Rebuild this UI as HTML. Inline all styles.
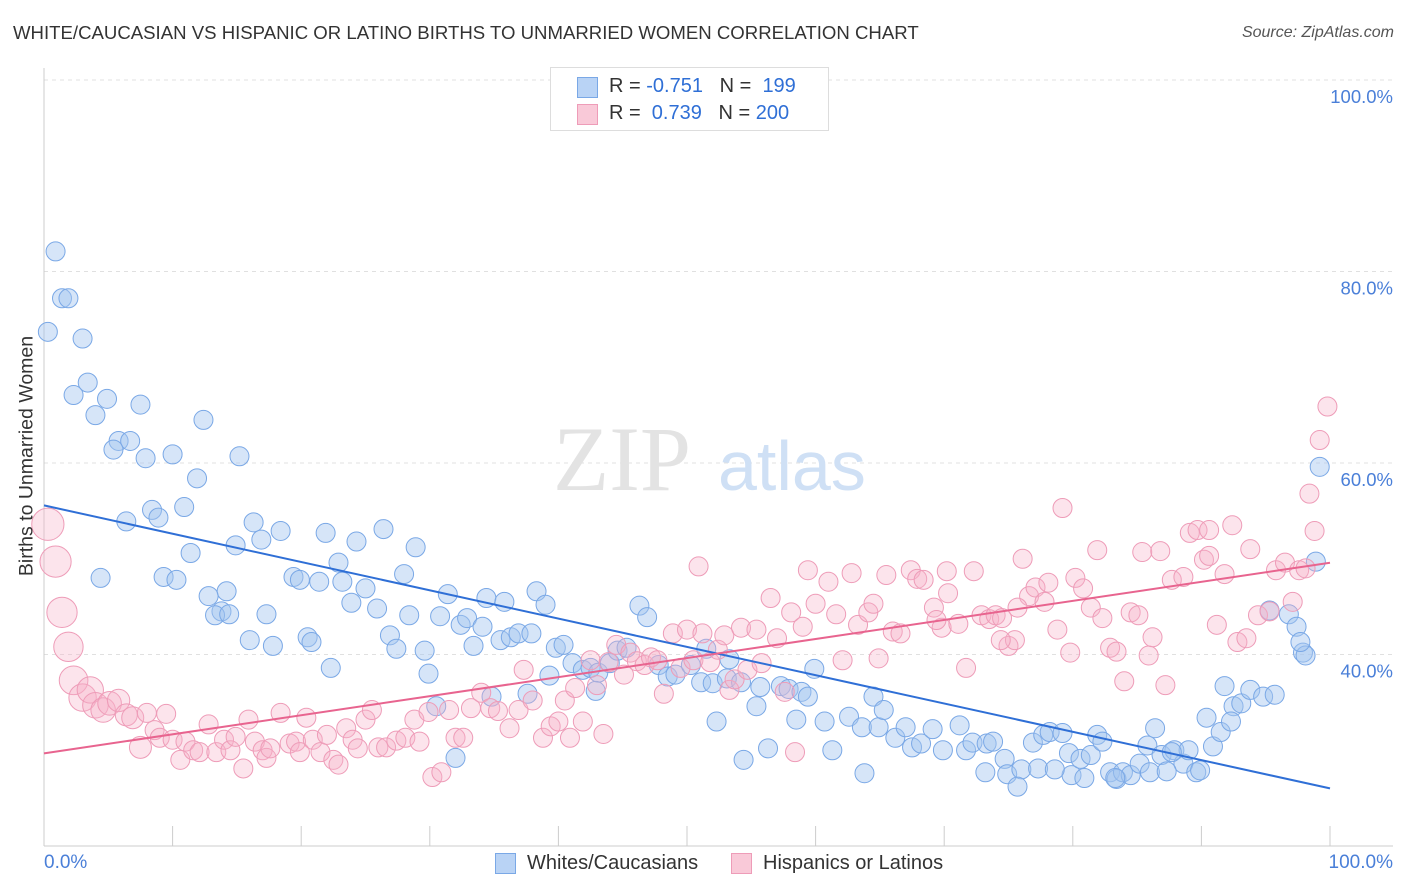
<!DOCTYPE html>
<html><head><meta charset="utf-8">
<style>
body{margin:0;background:#fff;font-family:"Liberation Sans",sans-serif;}
#wrap{position:relative;width:1406px;height:892px;overflow:hidden;}
.t{position:absolute;white-space:nowrap;}
</style></head>
<body>
<div id="wrap">
<div class="t" style="left:13px;top:22px;font-size:18.6px;color:#333;">WHITE/CAUCASIAN VS HISPANIC OR LATINO BIRTHS TO UNMARRIED WOMEN CORRELATION CHART</div>
<div class="t" style="right:12px;top:24px;font-size:16px;color:#555;font-style:italic;">Source: ZipAtlas.com</div>
<svg id="svg" width="1406" height="892" style="position:absolute;left:0;top:0"></svg>
<div style="position:absolute;left:550px;top:67px;width:277px;height:62px;border:1px solid #ddd;background:#fff;">
 <div style="position:absolute;left:26px;top:9px;width:19px;height:19px;background:#b9d3f5;border:1px solid #7aa8e6;"></div>
 <div class="t" style="left:58px;top:7px;font-size:20px;color:#333;">R = <span style="color:#2f6fd6">-0.751</span>&nbsp;&nbsp;&nbsp;N = &nbsp;<span style="color:#2f6fd6">199</span></div>
 <div style="position:absolute;left:26px;top:36px;width:19px;height:19px;background:#f9c9d8;border:1px solid #ee9cb8;"></div>
 <div class="t" style="left:58px;top:34px;font-size:20px;color:#333;">R = &nbsp;<span style="color:#2f6fd6">0.739</span>&nbsp;&nbsp;&nbsp;N = <span style="color:#2f6fd6">200</span></div>
</div>
<div class="t" style="left:27px;top:456px;font-size:19.5px;color:#333;transform:translate(-50%,-50%) rotate(-90deg);">Births to Unmarried Women</div>
<div class="t" style="left:44px;top:852px;font-size:19px;color:#4a7fd8;">0.0%</div>
<div class="t" style="right:13px;top:852px;font-size:19px;color:#4a7fd8;">100.0%</div>
<div style="position:absolute;left:495px;top:853px;width:19px;height:19px;background:#b9d3f5;border:1px solid #7aa8e6;"></div>
<div class="t" style="left:527px;top:852px;font-size:20px;color:#333;">Whites/Caucasians</div>
<div style="position:absolute;left:731px;top:853px;width:19px;height:19px;background:#f9c9d8;border:1px solid #ee9cb8;"></div>
<div class="t" style="left:763px;top:852px;font-size:20px;color:#333;">Hispanics or Latinos</div>
</div>
<script>
const yTicks=[40,60,80,100];
const yTickLabels=["40.0%","60.0%","80.0%","100.0%"];
const blueX=[0.9,1.4,1.9,0.3,3.0,3.4,2.3,4.9,4.0,7.5,5.8,6.7,5.4,7.9,10.0,12.4,15.2,11.9,8.4,10.9,6.4,8.9,11.4,4.4,9.3,10.3,14.9,16.3,16.9,18.4,21.9,24.3,26.4,28.9,22.9,28.0,19.4,21.4,23.2,25.0,19.9,14.2,13.8,12.8,13.3,14.4,17.3,23.9,25.9,28.4,31.4,34.4,35.8,38.3,39.0,30.8,32.4,32.9,34.1,16.0,17.8,20.5,20.8,26.9,27.4,29.6,33.4,35.5,36.3,36.9,37.9,39.8,40.4,22.3,29.9,30.5,32.0,34.8,37.6,39.3,41.1,41.9,42.5,43.1,44.0,44.6,45.3,42.9,46.3,46.9,47.8,48.5,49.1,50.3,51.5,53.3,51.1,52.0,53.1,54.2,55.7,57.3,57.9,58.9,59.4,59.9,60.7,62.6,63.6,64.9,52.3,55.4,54.4,56.3,58.5,61.3,63.8,64.5,65.3,66.2,67.0,67.5,68.2,69.1,69.9,71.2,71.7,72.2,73.3,73.8,74.7,74.9,76.0,76.9,77.7,78.2,79.2,79.7,79.9,80.6,81.4,81.9,82.3,82.9,83.4,83.9,84.5,85.2,85.8,86.4,86.9,87.9,88.6,89.6,89.0,90.4,90.9,91.8,92.5,93.1,93.8,94.8,91.5,92.3,95.3,96.8,97.4,97.9,98.1,97.7,98.9,99.2,95.7,73.2,75.7,77.3,78.6,80.9,83.3,86.0,87.3,87.7,89.9];
const blueY=[82.1,77.2,77.2,73.7,73.0,68.4,67.1,66.7,65.0,66.1,62.3,62.3,61.4,60.5,60.9,64.5,60.7,58.4,55.1,55.4,53.9,54.3,50.6,48.0,48.1,47.8,51.4,53.8,52.0,52.9,52.7,51.8,53.1,51.2,49.6,48.4,48.1,47.6,47.6,46.9,47.8,46.6,44.5,46.1,44.1,44.2,44.2,45.4,44.8,44.1,46.3,45.9,45.5,46.6,45.2,44.0,43.1,43.8,42.9,41.5,40.9,41.8,41.3,42.0,40.6,40.4,40.9,41.5,41.8,42.2,42.2,40.7,41.0,38.6,38.0,34.6,29.2,35.6,35.9,37.8,39.1,38.4,38.6,38.1,39.1,40.4,40.7,36.2,45.1,43.9,38.9,37.7,37.9,38.9,40.6,39.5,37.1,37.0,37.5,37.1,36.6,36.7,36.4,36.1,35.6,38.5,33.0,33.5,32.4,32.4,33.0,34.6,29.0,30.2,33.2,30.0,27.6,35.6,34.2,31.3,32.4,30.3,30.7,32.2,30.0,32.6,30.0,30.8,30.7,30.9,29.1,27.5,28.0,30.8,31.6,31.9,31.8,29.7,27.4,29.1,29.5,31.6,30.9,27.7,27.0,27.7,27.4,28.6,30.5,32.3,29.5,30.0,28.6,27.7,30.0,33.4,30.4,36.7,34.6,34.9,36.3,35.6,31.9,33.0,44.6,44.2,42.9,40.2,39.9,41.3,49.7,59.6,35.8,27.7,26.2,28.1,28.0,27.1,27.1,27.7,27.8,29.8,27.9];
const pinkX=[0.3,0.9,1.4,1.9,2.3,3.0,3.6,4.0,4.6,5.1,5.8,6.4,6.9,7.5,8.0,8.6,9.0,9.5,10.0,10.6,11.0,11.6,12.1,12.8,13.4,14.0,14.5,14.9,15.5,15.9,16.4,17.0,17.3,17.6,18.4,19.1,19.6,19.9,20.4,20.9,21.5,22.0,22.5,22.9,23.5,24.0,24.4,25.0,25.5,26.0,26.6,27.4,28.1,28.8,29.2,29.9,30.2,30.9,31.5,32.0,32.6,33.2,34.0,34.7,35.3,36.2,36.9,37.3,38.0,38.8,39.4,40.0,40.5,40.9,41.3,41.9,42.5,43.0,43.5,43.9,44.5,45.1,45.6,46.1,46.7,47.2,47.7,48.2,48.9,49.5,50.0,50.5,50.9,51.2,51.8,52.4,52.9,53.3,53.7,54.2,54.7,55.4,55.8,56.5,57.0,57.6,58.1,58.4,59.0,59.4,60.0,61.0,61.6,62.1,62.8,63.3,64.1,64.5,64.9,65.5,66.0,66.6,67.4,67.9,68.4,69.2,69.8,70.3,71.1,71.7,72.3,72.9,73.5,74.0,74.5,75.0,75.5,76.1,76.6,77.1,77.8,78.1,78.8,79.2,79.8,80.2,80.8,81.4,81.9,82.3,82.9,83.4,84.0,84.5,85.1,85.4,85.9,86.2,86.8,87.2,87.7,88.6,89.1,89.7,90.2,90.6,91.2,91.8,92.4,92.8,93.5,93.8,94.4,95.3,95.8,96.5,97.1,97.6,98.1,98.4,98.8,99.2,99.8,70.2,75.7,74.4,69.4,90.6];
const pinkY=[53.6,49.7,44.4,40.8,37.3,35.5,36.3,34.7,34.2,34.9,35.2,33.7,33.4,30.3,33.9,32.1,31.3,33.8,31.1,29.0,30.9,30.0,29.8,32.7,29.8,31.1,30.0,31.4,28.1,33.2,30.9,30.0,29.2,30.2,33.9,30.7,30.9,29.8,33.4,31.1,29.8,31.6,29.0,28.5,32.3,31.1,30.2,33.2,34.2,30.3,30.3,31.0,31.3,33.2,30.9,34.0,27.2,27.7,34.2,31.3,31.3,34.4,36.0,34.4,34.1,32.3,34.2,38.4,35.2,31.3,32.5,33.0,35.2,31.3,36.5,33.0,39.4,36.8,31.7,39.2,41.0,37.9,40.2,39.3,38.9,39.7,39.4,35.9,42.2,38.6,42.6,39.4,49.2,42.2,39.2,40.5,42.0,36.3,37.4,42.8,38.4,42.6,39.1,45.9,41.7,36.1,44.4,29.8,42.9,48.8,45.3,47.6,44.2,39.4,48.5,43.1,44.4,45.3,39.6,48.3,42.4,42.2,48.8,47.9,47.8,44.9,42.8,46.4,43.2,38.6,48.7,44.1,43.7,44.1,43.8,40.9,41.5,50.0,46.1,47.0,45.5,47.5,42.6,55.3,40.2,48.0,46.9,44.9,50.9,43.8,40.7,40.3,37.2,44.4,44.1,50.7,39.9,41.8,50.8,36.8,47.8,48.1,52.7,53.0,49.9,53.0,43.1,48.4,53.5,41.3,41.7,51.0,44.1,44.5,48.8,49.6,45.5,48.8,49.0,56.8,52.9,62.4,65.9,48.7,44.9,41.5,43.6,50.3];

const X0=44,X1=1330,YB=846,YT=80,YMIN=20,YMAX=100;
const sx=v=>X0+(X1-X0)*v/100;
const sy=v=>YB-(YB-YT)*(v-YMIN)/(YMAX-YMIN);
const svg=document.getElementById('svg');
const NS='http://www.w3.org/2000/svg';
function mk(tag,attrs){const e=document.createElementNS(NS,tag);for(const k in attrs)e.setAttribute(k,attrs[k]);svg.appendChild(e);return e;}

yTicks.forEach((t,i)=>{
 const g=mk('line',{x1:X0,x2:1393,y1:sy(t),y2:sy(t),stroke:'#e0e0e0','stroke-dasharray':'4,4'});
 
 
 const tx=mk('text',{x:1393,y:sy(t)+23,'text-anchor':'end','font-size':18.5,fill:'#4a7fd8','font-family':'Liberation Sans, sans-serif'});
 tx.textContent=yTickLabels[i];
 
 
});
const ax=mk('line',{x1:X0,x2:X0,y1:68,y2:YB,stroke:'#ccc'});


const bx=mk('line',{x1:X0,x2:1393,y1:YB,y2:YB,stroke:'#ccc'});


for(let i=1;i<=10;i++){
 const tk=mk('line',{x1:sx(i*10),x2:sx(i*10),y1:YB,y2:826,stroke:'#ccc'});
 
 
}
const wm=mk('text',{x:553,y:490,'font-size':92,fill:'#e3e3e3','font-family':'Liberation Serif, serif'});
wm.textContent='ZIP';


const wm2=mk('text',{x:718,y:490,'font-size':70,fill:'#cfe0f5','font-family':'Liberation Sans, sans-serif'});
wm2.textContent='atlas';



function pts(xs,ys,fill,stroke,name,big){
 xs.forEach((x,i)=>{
  let r=9.5;
  if(big&&x<8)r=11+Math.max(0,6-x)*0.9;
  const c=mk('circle',{cx:sx(x),cy:sy(ys[i]),r:r,fill:fill,stroke:stroke,'stroke-width':1});
  
  
 });
}
function reg(xs,ys){const n=xs.length;let mx=0,my=0;xs.forEach((x,i)=>{mx+=x;my+=ys[i];});mx/=n;my/=n;let a=0,b=0;xs.forEach((x,i)=>{a+=(x-mx)*(ys[i]-my);b+=(x-mx)*(x-mx);});const s=a/b;return [my-s*mx,my+s*(100-mx)];}
pts(blueX,blueY,'rgba(165,198,240,0.45)','#7aa8e6','blue-point',false);
pts(pinkX,pinkY,'rgba(246,178,200,0.35)','#ee9cb8','pink-point',true);
const rb=reg(blueX,blueY),rp=reg(pinkX,pinkY);
const lb=mk('line',{x1:sx(0),y1:sy(rb[0]),x2:sx(100),y2:sy(rb[1]),stroke:'#2f6fd6','stroke-width':2});


const lp=mk('line',{x1:sx(0),y1:sy(rp[0]),x2:sx(100),y2:sy(rp[1]),stroke:'#e8648f','stroke-width':2});


</script>
</body></html>
